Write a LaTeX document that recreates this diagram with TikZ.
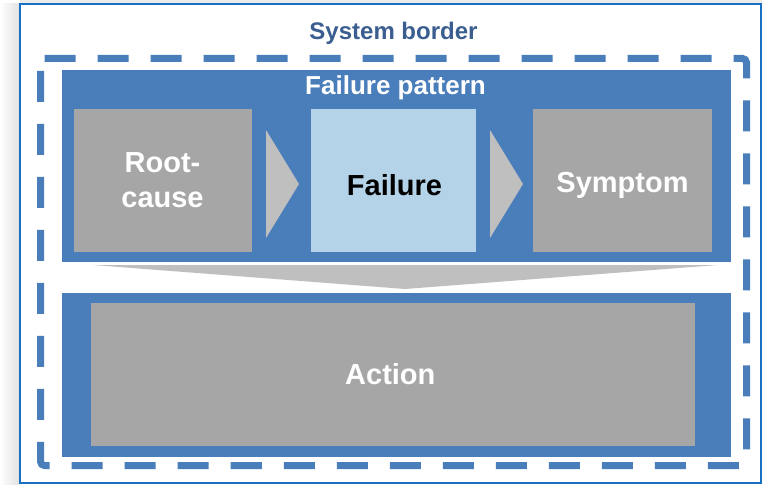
\documentclass[tikz,border=0pt]{standalone}
\usepackage{fontspec}
\setmainfont{Liberation Sans}
\definecolor{frameblue}{RGB}{24,112,192}
\definecolor{boxblue}{RGB}{74,126,187}
\definecolor{titleblue}{RGB}{58,94,143}
\definecolor{boxgray}{RGB}{166,166,166}
\definecolor{chevgray}{RGB}{191,191,191}
\definecolor{lightblue}{RGB}{180,211,232}
\begin{document}
\begin{tikzpicture}[x=1pt,y=-1pt,
  bluebox/.style={fill=boxblue,draw=none,inner sep=0pt},
  graybox/.style={fill=boxgray,draw=none,inner sep=0pt},
  lbluebox/.style={fill=lightblue,draw=none,inner sep=0pt},
  chev/.style={fill=chevgray,draw=none},
  lbl/.style={text=white,font=\bfseries\fontsize{29}{34}\selectfont,anchor=base,inner sep=0pt},
  sysborder/.style={draw=boxblue,line width=7pt,dash pattern=on 31pt off 22pt,rounded corners=4pt}]
\useasboundingbox (0,0) rectangle (762,484);
% shadow
\shade[left color=white,right color=black!12,draw=none] (0,4) rectangle (20,484);
\fill[black!8] (20,0) rectangle (762,4);
% outer frame
\draw[frameblue,line width=2pt,fill=white] (20,4) rectangle (761,483);
% system border
\draw[sysborder] (40.5,58.5) -- (746.5,58.5) -- (746.5,465.5) -- (40.5,465.5) -- cycle;
\node[text=titleblue,font=\bfseries\fontsize{24}{28}\selectfont,anchor=base,inner sep=0pt] (sb) at (393.5,39.3) {System border};
% failure pattern
\node[bluebox,minimum width=669pt,minimum height=192pt] (fp) at (396.5,166) {};
\node[text=white,font=\bfseries\fontsize{26}{30}\selectfont,anchor=base,inner sep=0pt] (fpl) at (395.5,95) {Failure pattern};
\node[graybox,minimum width=178pt,minimum height=143pt] (rc) at (163,180.5) {};
\node[lbluebox,minimum width=165pt,minimum height=143pt] (fa) at (393.5,180.5) {};
\node[graybox,minimum width=179pt,minimum height=143pt] (sy) at (622.5,180.5) {};
\node[lbl] (rc1) at (162.5,172.7) {Root-};
\node[lbl] (rc2) at (162.5,207) {cause};
\node[lbl,text=black] (fal) at (394.5,195) {Failure};
\node[lbl] (syl) at (622.5,192) {Symptom};
% chevrons
\fill[chev] (266,130) -- (299,184) -- (266,238) -- cycle;
\fill[chev] (490,130) -- (523,184) -- (490,238) -- cycle;
% wide arrow
\fill[chev] (93,265) -- (718,265) -- (405,289) -- cycle;
% action
\node[bluebox,minimum width=669pt,minimum height=164pt] (ab) at (396.5,375) {};
\node[graybox,minimum width=604pt,minimum height=143pt] (ag) at (393,374.5) {};
\node[lbl] (al) at (390.3,384) {Action};
\end{tikzpicture}
\end{document}
